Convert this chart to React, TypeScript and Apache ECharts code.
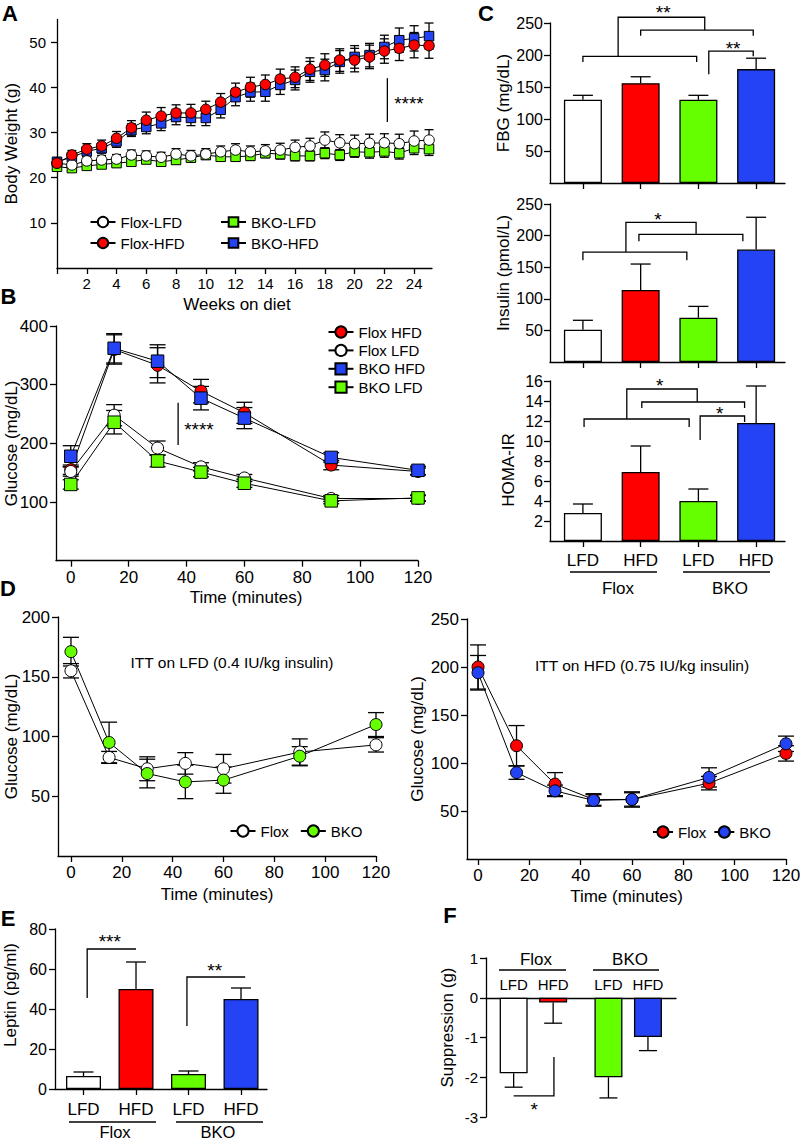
import React, { useEffect, useRef } from "react";
import * as echarts from "echarts";

const FONT = '"Liberation Sans", Arial, Helvetica, sans-serif';
const RED = "#ff0000";
const BLUE = "#2443f5";
const GREEN = "#66ff00";
const WHITE = "#ffffff";

// ---------- Panel A: body weight ----------
const weeks = [0, 1, 2, 3, 4, 5, 6, 7, 8, 9, 10, 11, 12, 13, 14, 15, 16, 17, 18, 19, 20, 21, 22, 23, 24, 25];
const aFloxLFD = [23.2, 22.8, 23.7, 23.9, 24.1, 25.0, 24.8, 24.5, 25.2, 24.8, 25.2, 25.7, 26.1, 25.7, 25.9, 26.1, 26.7, 27.0, 28.3, 27.7, 27.5, 27.6, 27.7, 27.5, 28.1, 28.3];
const aFloxLFDErr = [0.8, 0.9, 0.9, 1.0, 1.0, 1.1, 1.1, 1.1, 1.2, 1.2, 1.2, 1.3, 1.4, 1.3, 1.4, 1.5, 1.6, 1.7, 1.8, 1.8, 1.9, 2.0, 2.0, 2.1, 2.2, 2.3];
const aFloxHFD = [23.2, 25.0, 26.3, 27.0, 28.7, 31.0, 32.7, 33.6, 34.3, 34.3, 35.1, 36.7, 38.9, 40.0, 40.6, 41.8, 42.2, 44.0, 44.9, 46.0, 46.0, 46.7, 48.0, 48.6, 49.3, 49.2];
const aFloxHFDErr = [0.8, 1.0, 1.2, 1.3, 1.5, 1.6, 1.8, 1.9, 1.8, 1.9, 1.8, 1.9, 2.0, 2.2, 2.1, 2.2, 2.3, 2.5, 2.5, 2.5, 2.6, 2.6, 2.7, 2.7, 2.8, 2.8];
const aBkoLFD = [22.4, 22.1, 22.6, 22.9, 23.2, 23.5, 24.0, 23.5, 23.9, 24.4, 25.0, 24.6, 24.6, 24.8, 25.4, 25.2, 24.8, 24.8, 25.4, 25.0, 25.7, 25.6, 25.8, 25.4, 26.5, 26.3];
const aBkoLFDErr = [0.7, 0.7, 0.7, 0.8, 0.8, 0.8, 0.8, 0.9, 0.9, 0.9, 0.9, 1.0, 1.0, 1.0, 1.0, 1.1, 1.1, 1.1, 1.2, 1.2, 1.2, 1.3, 1.3, 1.3, 1.4, 1.4];
const aBkoHFD = [23.5, 24.5, 25.8, 26.5, 28.0, 30.5, 31.2, 32.0, 33.4, 33.2, 33.2, 35.0, 37.8, 38.9, 39.0, 40.5, 41.6, 43.4, 43.8, 45.6, 46.7, 47.1, 48.9, 50.4, 50.8, 51.3];
const aBkoHFDErr = [0.8, 0.9, 1.0, 1.1, 1.3, 1.4, 1.5, 1.6, 1.7, 1.7, 1.7, 1.8, 1.9, 2.0, 2.1, 2.1, 2.2, 2.3, 2.4, 2.5, 2.5, 2.6, 2.6, 2.7, 2.8, 2.9];
const aYTicks = [10, 20, 30, 40, 50];
const aXTicks = [0, 2, 4, 6, 8, 10, 12, 14, 16, 18, 20, 22, 24];
const aXLabels = [2, 4, 6, 8, 10, 12, 14, 16, 18, 20, 22, 24];

// ---------- Panel B: GTT ----------
const gttTimes = [0, 15, 30, 45, 60, 90, 120];
const bFloxHFD = [155, 360, 333, 289, 252, 163, 152];
const bFloxHFDErr = [8, 25, 30, 20, 18, 8, 6];
const bFloxLFD = [152, 248, 192, 160, 141, 106, 106];
const bFloxLFDErr = [8, 18, 12, 7, 6, 5, 5];
const bBkoHFD = [178, 362, 340, 277, 243, 176, 154];
const bBkoHFDErr = [18, 25, 28, 20, 18, 8, 7];
const bBkoLFD = [130, 236, 170, 151, 132, 102, 107];
const bBkoLFDErr = [8, 20, 10, 8, 7, 5, 5];
const bYTicks = [100, 200, 300, 400];
const timeTicks = [0, 20, 40, 60, 80, 100, 120];

// ---------- Panel C: FBG, insulin, HOMA-IR ----------
const diets = ["LFD", "HFD", "LFD", "HFD"];
const genotypes = ["Flox", "BKO"];
const groupColors = [WHITE, RED, GREEN, BLUE];
const fbg = [130, 156, 130, 178];
const fbgErr = [7, 10, 7, 17];
const insulin = [51, 114, 70, 178];
const insulinErr = [15, 41, 18, 51];
const homa = [2.8, 6.9, 4.0, 11.8];
const homaErr = [0.9, 2.6, 1.2, 3.7];
const c1Ticks = [50, 100, 150, 200, 250];
const c3Ticks = [2, 4, 6, 8, 10, 12, 14, 16];

// ---------- Panel D: ITT ----------
const ittTimes = [0, 15, 30, 45, 60, 90, 120];
const dLfdFlox = [155, 82.5, 73, 77.5, 73, 87, 93];
const dLfdFloxErr = [6, 5, 10, 9, 12, 11, 6];
const dLfdBko = [171, 95, 69, 62, 63.5, 83.5, 110];
const dLfdBkoErr = [12, 17, 12, 14, 11, 8, 10];
const dHfdFlox = [200, 118, 78, 62, 62, 79, 110];
const dHfdFloxErr = [23, 21, 12, 6, 8, 7, 8];
const dHfdBko = [194, 90, 71, 61, 62, 85, 120];
const dHfdBkoErr = [18, 7, 6, 6, 7, 10, 8];
const d1YTicks = [50, 100, 150, 200];
const d2YTicks = [50, 100, 150, 200, 250];

// ---------- Panel E: leptin ----------
const leptin = [6.5, 50, 7.5, 45];
const leptinErr = [2, 13.5, 1.5, 5.5];
const eYTicks = [0, 20, 40, 60, 80];

// ---------- Panel F: suppression ----------
const suppression = [-1.9, -0.12, -2.0, -0.99];
const suppressionErr = [0.35, 0.52, 0.52, 0.34];
const fYTicks = [-3, -2, -1, 0, 1];

// layout helpers (positions on the bar axes)
const barX = [0, 1, 2, 3];
const fBarX = [0, 1, 2.4, 3.4];

type Sig = { pts: number[][]; star?: string; at?: number[] };
const aSig: Sig[] = [{ pts: [[22.2, 32.3], [22.2, 42]], star: "****", at: [23.65, 37.2] }];
const bSig: Sig[] = [{ pts: [[37.1, 197], [37.1, 269]], star: "****", at: [44.3, 231] }];
const c1Sig: Sig[] = [
  { pts: [[0, 189], [0, 198], [1.97, 198], [1.97, 189]] },
  { pts: [[1, 230], [1, 239], [2.95, 239], [2.95, 230]] },
  { pts: [[0.61, 198], [0.61, 259], [2.11, 259], [2.11, 239]], star: "**", at: [1.39, 273] },
  { pts: [[2.18, 170], [2.18, 206], [2.95, 206], [2.95, 198]], star: "**", at: [2.6, 217] },
];
const c2Sig: Sig[] = [
  { pts: [[0, 161], [0, 174], [1.8, 174], [1.8, 161]] },
  { pts: [[0.97, 191], [0.97, 202], [2.77, 202], [2.77, 191]] },
  { pts: [[0.745, 174], [0.745, 221], [1.96, 221], [1.96, 202]], star: "*", at: [1.3, 232.5] },
];
const c3Sig: Sig[] = [
  { pts: [[0.02, 11.4], [0.02, 12.2], [1.84, 12.2], [1.84, 11.4]] },
  { pts: [[1.02, 13.3], [1.02, 13.9], [2.8, 13.9], [2.8, 13.3]] },
  { pts: [[0.76, 12.2], [0.76, 15.2], [1.98, 15.2], [1.98, 13.9]], star: "*", at: [1.33, 16.0] },
  { pts: [[2.03, 10.1], [2.03, 12.5], [2.8, 12.5], [2.8, 11.9]], star: "*", at: [2.37, 13.2] },
];
const eSig: Sig[] = [
  { pts: [[0.07, 45.5], [0.07, 70], [1.0, 70]], star: "***", at: [0.5, 76] },
  { pts: [[1.97, 31.5], [1.97, 56], [3.08, 56]], star: "**", at: [2.5, 61.5] },
];
const fSig: Sig[] = [{ pts: [[0, -2.47], [1.02, -2.47], [1.02, -1.49]], star: "*", at: [0.52, -2.7] }];

const BLACK = "#000";

function axis(o: any) {
  const {
    grid, min, max, ticks = [], labels = [], fmt, name, nameGap, namePad, fontSize = 17, margin = 8,
    onZero = false, tickShow = true,
  } = o;
  return {
    type: "value",
    gridIndex: grid,
    min,
    max,
    name,
    nameLocation: "middle",
    nameGap,
    nameMoveOverlap: false,
    nameTextStyle: { color: BLACK, fontSize: 17, fontFamily: FONT, padding: namePad || 0 },
    axisLine: { show: true, onZero, lineStyle: { color: BLACK, width: 1.3 } },
    axisTick: tickShow && ticks.length
      ? { show: true, length: 6, customValues: ticks, lineStyle: { color: BLACK, width: 1.3 } }
      : { show: false },
    axisLabel: labels.length
      ? { show: true, customValues: labels, color: BLACK, fontSize, fontFamily: FONT, margin, formatter: fmt }
      : { show: false },
    splitLine: { show: false },
  };
}

function lineSeries(name: string, ax: number, xs: number[], ys: number[], symbol: string, size: number, color: string, z: number) {
  return {
    type: "line",
    name,
    xAxisIndex: ax,
    yAxisIndex: ax,
    data: xs.map((x, i) => [x, ys[i]]),
    symbol,
    symbolSize: size,
    showSymbol: true,
    clip: false,
    silent: true,
    z,
    lineStyle: { color: BLACK, width: 1 },
    itemStyle: { color, borderColor: BLACK, borderWidth: 1 },
    emphasis: { disabled: true },
  };
}

function errSeries(ax: number, xs: number[], ys: number[], errs: number[], cap: number, both: boolean, z: number) {
  return {
    type: "custom",
    xAxisIndex: ax,
    yAxisIndex: ax,
    clip: false,
    silent: true,
    z,
    data: xs.map((x, i) => [x, ys[i], errs[i]]),
    renderItem: (params: any, api: any) => {
      const x = api.value(0);
      const y = api.value(1);
      const e = api.value(2);
      const hi = y >= 0 ? y + e : y - e;
      const lo = both ? y - e : y;
      const pH = api.coord([x, hi]);
      const pL = api.coord([x, lo]);
      const st = { stroke: BLACK, lineWidth: 1.3 };
      const ch: any[] = [
        { type: "line", shape: { x1: pL[0], y1: pL[1], x2: pH[0], y2: pH[1] }, style: st },
        { type: "line", shape: { x1: pH[0] - cap / 2, y1: pH[1], x2: pH[0] + cap / 2, y2: pH[1] }, style: st },
      ];
      if (both) ch.push({ type: "line", shape: { x1: pL[0] - cap / 2, y1: pL[1], x2: pL[0] + cap / 2, y2: pL[1] }, style: st });
      return { type: "group", children: ch };
    },
  };
}

function barSeries(ax: number, xs: number[], vals: number[], width: number) {
  return {
    type: "bar",
    xAxisIndex: ax,
    yAxisIndex: ax,
    barWidth: width,
    silent: true,
    z: 2,
    data: vals.map((v, i) => ({ value: [xs[i], v], itemStyle: { color: groupColors[i] } })),
    itemStyle: { borderColor: BLACK, borderWidth: 1.3 },
  };
}

const textStyle = (text: string, size: number, weight = "normal") => ({
  text, fontSize: size, fontWeight: weight, fontFamily: FONT, fill: BLACK,
  align: "center", verticalAlign: "middle", textAlign: "center", textVerticalAlign: "middle",
});

function sigSeries(ax: number, defs: Sig[]) {
  return {
    type: "custom",
    xAxisIndex: ax,
    yAxisIndex: ax,
    clip: false,
    silent: true,
    z: 4,
    data: defs.map((d, i) => [d.pts[0][0], d.pts[0][1], i]),
    renderItem: (params: any, api: any) => {
      const d = defs[params.dataIndex];
      const ch: any[] = [
        {
          type: "polyline",
          shape: { points: d.pts.map((p) => api.coord(p)) },
          style: { stroke: BLACK, lineWidth: 1.3, fill: "none" },
        },
      ];
      if (d.star && d.at) {
        const c = api.coord(d.at);
        ch.push({ type: "text", x: c[0], y: c[1] + 4, style: textStyle(d.star, 19) });
      }
      return { type: "group", children: ch };
    },
  };
}

// diet labels sitting just above the zero line of panel F
function fLabelSeries(ax: number, xs: number[]) {
  return {
    type: "custom",
    xAxisIndex: ax,
    yAxisIndex: ax,
    clip: false,
    silent: true,
    z: 4,
    data: xs.map((x, i) => [x, 0, i]),
    renderItem: (params: any, api: any) => {
      const c = api.coord([api.value(0), 0]);
      return { type: "text", x: c[0], y: c[1] - 13, style: textStyle(diets[params.dataIndex], 15) };
    },
  };
}

function txt(x: number, y: number, text: string, size: number, weight = "normal") {
  return { type: "text", x, y, silent: true, style: textStyle(text, size, weight) };
}
function hline(x1: number, x2: number, y: number) {
  return { type: "line", silent: true, shape: { x1, y1: y, x2, y2: y }, style: { stroke: BLACK, lineWidth: 1.3 } };
}

const dietFmt = (v: number) => diets[barX.indexOf(Math.round(v))] ?? "";
const legendFmt = (n: string) => n.split(" (")[0];

function buildOption() {
  const legendText = { fontSize: 15, fontFamily: FONT, color: BLACK, lineHeight: 17 };
  const lg = (o: any) => ({ padding: 0, selectedMode: false, textStyle: legendText, itemWidth: 25, itemHeight: 13, ...o });

  const grids = [
    { left: 57, top: 19.4, width: 375, height: 248.6 },
    { left: 56, top: 326, width: 362, height: 234.7 },
    { left: 550, top: 23, width: 235, height: 160 },
    { left: 550, top: 204, width: 235, height: 158 },
    { left: 550, top: 381, width: 235, height: 160 },
    { left: 58, top: 617, width: 318, height: 239 },
    { left: 467, top: 619, width: 319, height: 240 },
    { left: 55, top: 929, width: 212, height: 160 },
    { left: 486, top: 958, width: 190, height: 159 },
  ].map((g) => ({ ...g, containLabel: false, outerBoundsMode: "none" }));

  const xAxes = [
    axis({ grid: 0, min: 0, max: 25.2, ticks: aXTicks, labels: aXLabels, name: "Weeks on diet", nameGap: 28, namePad: [0, 15, 0, 0], fontSize: 15 }),
    axis({ grid: 1, min: -5.1, max: 120, ticks: timeTicks, labels: timeTicks, name: "Time (minutes)", nameGap: 28, namePad: [0, 0, 0, 18] }),
    axis({ grid: 2, min: -0.57, max: 3.5, ticks: barX }),
    axis({ grid: 3, min: -0.57, max: 3.5, ticks: barX }),
    axis({ grid: 4, min: -0.57, max: 3.5, ticks: barX, labels: barX, fmt: dietFmt, margin: 11 }),
    axis({ grid: 5, min: -5.1, max: 120, ticks: timeTicks, labels: timeTicks, name: "Time (minutes)", nameGap: 30 }),
    axis({ grid: 6, min: -4.3, max: 120, ticks: timeTicks, labels: timeTicks, name: "Time (minutes)", nameGap: 29 }),
    axis({ grid: 7, min: -0.543, max: 3.495, ticks: barX, labels: barX, fmt: dietFmt, margin: 12 }),
    axis({ grid: 8, min: -0.7, max: 4.11, tickShow: false, onZero: true }),
  ];
  const yAxes = [
    axis({ grid: 0, min: 0, max: 55, ticks: aYTicks, labels: aYTicks, name: "Body Weight (g)", nameGap: 37, fontSize: 15, margin: 11 }),
    axis({ grid: 1, min: 0, max: 400, ticks: bYTicks, labels: bYTicks, name: "Glucose (mg/dL)", nameGap: 36 }),
    axis({ grid: 2, min: 0, max: 250, ticks: c1Ticks, labels: c1Ticks, name: "FBG (mg/dL)", nameGap: 38, fontSize: 16, margin: 7 }),
    axis({ grid: 3, min: 0, max: 250, ticks: c1Ticks, labels: c1Ticks, name: "Insulin (pmol/L)", nameGap: 38, namePad: [0, 0, 0, 20], fontSize: 16, margin: 7 }),
    axis({ grid: 4, min: 0, max: 16, ticks: c3Ticks, labels: c3Ticks, name: "HOMA-IR", nameGap: 33, namePad: [0, 18, 0, 0], fontSize: 16, margin: 7 }),
    axis({ grid: 5, min: 0, max: 200, ticks: d1YTicks, labels: d1YTicks, name: "Glucose (mg/dL)", nameGap: 38 }),
    axis({ grid: 6, min: 0, max: 250, ticks: d2YTicks, labels: d2YTicks, name: "Glucose (mg/dL)", nameGap: 41 }),
    axis({ grid: 7, min: 0, max: 80, ticks: eYTicks, labels: eYTicks, name: "Leptin (pg/ml)", nameGap: 36, namePad: [0, 0, 0, 28], fontSize: 16 }),
    axis({ grid: 8, min: -3, max: 1, ticks: fYTicks, labels: fYTicks, name: "Suppression (g)", nameGap: 30, namePad: [0, 0, 0, 20], fontSize: 15 }),
  ];

  const series: any[] = [
    // A
    errSeries(0, weeks, aBkoLFD, aBkoLFDErr, 9, true, 1),
    errSeries(0, weeks, aFloxLFD, aFloxLFDErr, 9, true, 1),
    errSeries(0, weeks, aBkoHFD, aBkoHFDErr, 9, true, 1),
    errSeries(0, weeks, aFloxHFD, aFloxHFDErr, 9, true, 1),
    lineSeries("BKO-LFD", 0, weeks, aBkoLFD, "rect", 9.5, GREEN, 2),
    lineSeries("Flox-LFD", 0, weeks, aFloxLFD, "circle", 10.5, WHITE, 3),
    lineSeries("BKO-HFD", 0, weeks, aBkoHFD, "rect", 9.5, BLUE, 2),
    lineSeries("Flox-HFD", 0, weeks, aFloxHFD, "circle", 10.5, RED, 3),
    sigSeries(0, aSig),
    // B
    errSeries(1, gttTimes, bFloxHFD, bFloxHFDErr, 16, true, 1),
    errSeries(1, gttTimes, bFloxLFD, bFloxLFDErr, 16, true, 1),
    errSeries(1, gttTimes, bBkoHFD, bBkoHFDErr, 16, true, 1),
    errSeries(1, gttTimes, bBkoLFD, bBkoLFDErr, 16, true, 1),
    lineSeries("Flox HFD", 1, gttTimes, bFloxHFD, "circle", 12, RED, 2),
    lineSeries("Flox LFD", 1, gttTimes, bFloxLFD, "circle", 12, WHITE, 2),
    lineSeries("BKO HFD", 1, gttTimes, bBkoHFD, "rect", 12.5, BLUE, 3),
    lineSeries("BKO LFD", 1, gttTimes, bBkoLFD, "rect", 12.5, GREEN, 3),
    sigSeries(1, bSig),
    // C
    barSeries(2, barX, fbg, 38),
    errSeries(2, barX, fbg, fbgErr, 20, false, 3),
    sigSeries(2, c1Sig),
    barSeries(3, barX, insulin, 38),
    errSeries(3, barX, insulin, insulinErr, 20, false, 3),
    sigSeries(3, c2Sig),
    barSeries(4, barX, homa, 38),
    errSeries(4, barX, homa, homaErr, 20, false, 3),
    sigSeries(4, c3Sig),
    // D
    errSeries(5, ittTimes, dLfdFlox, dLfdFloxErr, 16, true, 1),
    errSeries(5, ittTimes, dLfdBko, dLfdBkoErr, 16, true, 1),
    lineSeries("Flox (LFD ITT)", 5, ittTimes, dLfdFlox, "circle", 12, WHITE, 2),
    lineSeries("BKO (LFD ITT)", 5, ittTimes, dLfdBko, "circle", 12, GREEN, 3),
    errSeries(6, ittTimes, dHfdFlox, dHfdFloxErr, 16, true, 1),
    errSeries(6, ittTimes, dHfdBko, dHfdBkoErr, 16, true, 1),
    lineSeries("Flox (HFD ITT)", 6, ittTimes, dHfdFlox, "circle", 12, RED, 2),
    lineSeries("BKO (HFD ITT)", 6, ittTimes, dHfdBko, "circle", 12, BLUE, 3),
    // E
    barSeries(7, barX, leptin, 35),
    errSeries(7, barX, leptin, leptinErr, 20, false, 3),
    sigSeries(7, eSig),
    // F
    barSeries(8, fBarX, suppression, 28),
    errSeries(8, fBarX, suppression, suppressionErr, 18, false, 3),
    sigSeries(8, fSig),
    fLabelSeries(8, fBarX),
  ];

  const legend = [
    lg({ data: ["Flox-LFD", "Flox-HFD"], left: 89.5, top: 213.5, orient: "vertical", itemGap: 4 }),
    lg({ data: ["BKO-LFD", "BKO-HFD"], left: 220, top: 213.5, orient: "vertical", itemGap: 4, itemHeight: 12 }),
    lg({ data: ["Flox HFD", "Flox LFD", "BKO HFD", "BKO LFD"], left: 327.5, top: 323.5, orient: "vertical", itemGap: 1.4, itemHeight: 14 }),
    lg({ data: ["Flox (LFD ITT)", "BKO (LFD ITT)"], left: 229.5, top: 822.5, orient: "horizontal", itemGap: 11, itemHeight: 14, formatter: legendFmt }),
    lg({ data: ["Flox (HFD ITT)", "BKO (HFD ITT)"], left: 652, top: 823.5, orient: "horizontal", itemGap: 7, itemWidth: 20, itemHeight: 14, formatter: legendFmt }),
  ];

  const graphicEls: any[] = [
    txt(10, 13, "A", 22, "bold"),
    txt(8.5, 296, "B", 22, "bold"),
    txt(486, 13, "C", 22, "bold"),
    txt(8, 588, "D", 22, "bold"),
    txt(8, 918, "E", 22, "bold"),
    txt(450, 915, "F", 22, "bold"),
    txt(232, 662, "ITT on LFD (0.4 IU/kg insulin)", 15.5),
    txt(642, 665, "ITT on HFD (0.75 IU/kg insulin)", 15.5),
    // C group labels
    hline(570, 657, 572),
    hline(683, 770, 572),
    txt(618, 588, genotypes[0], 17),
    txt(730, 588, genotypes[1], 17),
    // E group labels
    hline(69, 156, 1122),
    hline(176, 263, 1122),
    txt(115, 1132, genotypes[0], 16.5),
    txt(218, 1132, genotypes[1], 16.5),
    // F group labels
    hline(499, 566, 970),
    hline(593, 659, 970),
    txt(536, 959, genotypes[0], 17),
    txt(630, 959, genotypes[1], 17),
  ];

  return {
    animation: false,
    backgroundColor: "#fff",
    textStyle: { fontFamily: FONT, color: BLACK },
    grid: grids,
    xAxis: xAxes,
    yAxis: yAxes,
    legend,
    series,
    graphic: { elements: graphicEls },
  };
}

export default function App() {
  const ref = useRef<HTMLDivElement>(null);
  useEffect(() => {
    if (!ref.current) return;
    const chart = echarts.init(ref.current, null, { renderer: "svg" });
    chart.setOption(buildOption() as any);
    return () => chart.dispose();
  }, []);
  return (
    <div
      ref={ref}
      style={{ position: "absolute", left: 0, top: 0, width: 801, height: 1143, background: "#fff" }}
    />
  );
}
